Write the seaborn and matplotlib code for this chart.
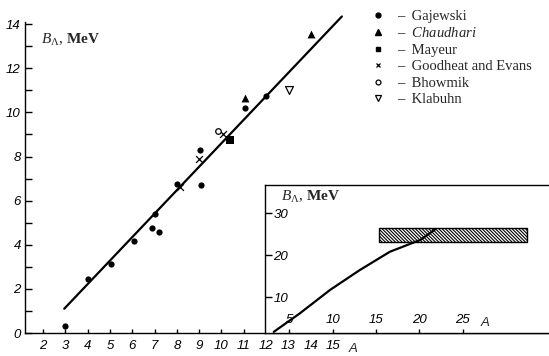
import matplotlib
matplotlib.use("Agg")
import matplotlib.pyplot as plt
import seaborn as sns
import numpy as np
import pandas as pd
from matplotlib.lines import Line2D
from matplotlib.patches import Rectangle
from matplotlib.ticker import MultipleLocator

# ---------------- data ----------------
gaj_A = [3.0, 4.0, 5.05, 6.1, 6.9, 7.2, 7.0, 8.0, 9.1, 9.05, 11.05, 12.0]
gaj_B = [0.3, 2.45, 3.15, 4.15, 4.75, 4.6, 5.4, 6.75, 6.7, 8.3, 10.2, 10.75]
chau_A = [11.05, 14.0]
chau_B = [10.65, 13.55]
may_A = [10.4]
may_B = [8.75]
good_A = [8.15, 9.0, 10.05]
good_B = [6.6, 7.9, 9.0]
bhow_A = [9.85]
bhow_B = [9.15]
klab_A = [13.05]
klab_B = [11.0]

fit_A = [2.95, 15.4]
fit_B = [1.1, 14.35]

inset_A = [3.2, 6.2, 9.7, 13.1, 16.6, 20.1, 21.8]
inset_B = [1.7, 6.1, 11.7, 16.4, 20.8, 23.6, 26.1]
band_A = [15.3, 32.4]
band_B = [23.2, 26.4]

main_xticks = list(range(2, 16))
main_yticks = list(range(0, 15, 2))
inset_xticks = [5, 10, 15, 20, 25]
inset_yticks = [10, 20, 30]

names = ["Gajewski", "Chaudhari", "Mayeur", "Goodheat and Evans", "Bhowmik", "Klabuhn"]

# ---------------- style ----------------
sns.set_theme(style="white")
plt.rcParams["font.family"] = ["Liberation Serif", "DejaVu Serif"]
plt.rcParams["mathtext.fontset"] = "custom"
plt.rcParams["mathtext.rm"] = "Liberation Serif"
plt.rcParams["mathtext.it"] = "Liberation Serif:italic"
plt.rcParams["mathtext.bf"] = "Liberation Serif:bold"
plt.rcParams["hatch.linewidth"] = 0.8
plt.rcParams["hatch.color"] = "black"
plt.rcParams["axes.linewidth"] = 1.0

tick_font = dict(family=["Liberation Sans Narrow", "Liberation Sans", "DejaVu Sans"],
                 style="italic", size=9.5)

W, H = 549, 356
fig = plt.figure(figsize=(W / 100, H / 100), dpi=100)


def rect(l, t, r, b):
    return [l / W, 1 - b / H, (r - l) / W, (b - t) / H]


ax = fig.add_axes(rect(25, 22, 549, 333))
ax_in = fig.add_axes(rect(265, 185, 549, 333))
ax_in.set_zorder(ax.get_zorder() + 1)

# ---------------- main panel ----------------
ax.set_xlim(1.19, 24.69)
ax.set_ylim(0, 14.1)
for s in ["top", "right"]:
    ax.spines[s].set_visible(False)
for s in ["left", "bottom"]:
    ax.spines[s].set_color("black")

sns.lineplot(x=fit_A, y=fit_B, ax=ax, color="black", linewidth=1.6)
ax.lines[-1].set_clip_on(False)

ms = 20
sns.scatterplot(x=gaj_A, y=gaj_B, ax=ax, marker="o", s=ms, color="black", linewidth=0, zorder=3)
sns.scatterplot(x=chau_A, y=chau_B, ax=ax, marker="^", s=ms * 1.6, color="black", linewidth=0, zorder=3)
sns.scatterplot(x=may_A, y=may_B, ax=ax, marker="s", s=ms * 1.3, color="black", linewidth=0, zorder=3)
sns.scatterplot(x=good_A, y=good_B, ax=ax, marker="x", s=ms * 1.2, color="black", linewidth=0.9, zorder=3)
sns.scatterplot(x=bhow_A, y=bhow_B, ax=ax, marker="o", s=ms * 0.8, facecolors="white",
                edgecolors="black", linewidth=0.9, zorder=3)
sns.scatterplot(x=klab_A, y=klab_B, ax=ax, marker="v", s=ms * 1.6, facecolors="white",
                edgecolors="black", linewidth=0.9, zorder=3)

ax.set_xticks(main_xticks)
ax.set_xticklabels([str(v) for v in main_xticks], fontdict=tick_font)
ax.set_yticks(main_yticks)
ax.set_yticklabels([str(v) for v in main_yticks], fontdict=tick_font)
ax.yaxis.set_minor_locator(MultipleLocator(1))
ax.tick_params(axis="x", which="both", direction="in", length=3, width=1, pad=5,
               bottom=True, colors="black")
ax.tick_params(axis="y", which="both", direction="in", length=5, width=1, pad=3,
               left=True, colors="black")
ax.set_xlabel("")
ax.set_ylabel("")
ax.text(15.9, -0.05, "A", transform=ax.get_xaxis_transform(), ha="center", va="center",
        **{"fontfamily": tick_font["family"], "fontstyle": "italic", "fontsize": 9.5})
ax.text(1.9, 13.3, r"$B_{\Lambda}$, $\mathbf{MeV}$", ha="left", va="center", fontsize=11)

# legend
handles = [
    Line2D([], [], ls="none", marker="o", ms=3.5, mfc="black", mec="black"),
    Line2D([], [], ls="none", marker="^", ms=4, mfc="black", mec="black"),
    Line2D([], [], ls="none", marker="s", ms=3.5, mfc="black", mec="black"),
    Line2D([], [], ls="none", marker="x", ms=3.5, mec="black", mew=0.9),
    Line2D([], [], ls="none", marker="o", ms=3.5, mfc="white", mec="black", mew=0.9),
    Line2D([], [], ls="none", marker="v", ms=4.5, mfc="white", mec="black", mew=0.9),
]
labels = ["\u2013  " + names[0], "\u2013  $\\it{Chaudhari}$"] + ["\u2013  " + n for n in names[2:]]
fig.legend(handles, labels, loc="upper left", bbox_to_anchor=(372 / W, 1 - 10 / H),
           frameon=False, handlelength=0.8, handletextpad=0.9, labelspacing=0.22,
           borderpad=0, borderaxespad=0, prop={"family": "Liberation Serif", "size": 10.5})

# ---------------- inset ----------------
ax_in.set_facecolor("white")
ax_in.set_xlim(2.19, 34.95)
ax_in.set_ylim(1.43, 36.7)
ax_in.spines["right"].set_visible(False)
for s in ["left", "top", "bottom"]:
    ax_in.spines[s].set_color("black")
    ax_in.spines[s].set_linewidth(1.0)

ax_in.add_patch(Rectangle((band_A[0], band_B[0]), band_A[1] - band_A[0], band_B[1] - band_B[0],
                          facecolor="white", edgecolor="black", hatch="\\\\\\\\\\\\\\\\\\\\",
                          linewidth=1.0, zorder=1))
sns.lineplot(x=inset_A, y=inset_B, ax=ax_in, color="black", linewidth=1.6, sort=False, zorder=3)

ax_in.set_xticks(inset_xticks)
ax_in.set_xticklabels([str(v) for v in inset_xticks], fontdict=tick_font)
ax_in.set_yticks(inset_yticks)
ax_in.set_yticklabels([str(v) for v in inset_yticks], fontdict=tick_font, ha="left")
ax_in.tick_params(axis="x", direction="in", length=3, width=1, pad=-14, bottom=True,
                  colors="black")
ax_in.tick_params(axis="y", direction="in", length=5, width=1, pad=-6, left=True,
                  colors="black")
ax_in.set_xlabel("")
ax_in.set_ylabel("")
ax_in.text(27.6, 0.07, "A", transform=ax_in.get_xaxis_transform(), ha="center", va="center",
           **{"fontfamily": tick_font["family"], "fontstyle": "italic", "fontsize": 9.5})
ax_in.text(4.0, 33.8, r"$B_{\Lambda}$, $\mathbf{MeV}$", ha="left", va="center", fontsize=11)

fig.savefig("out.png", dpi=100, facecolor="white")
